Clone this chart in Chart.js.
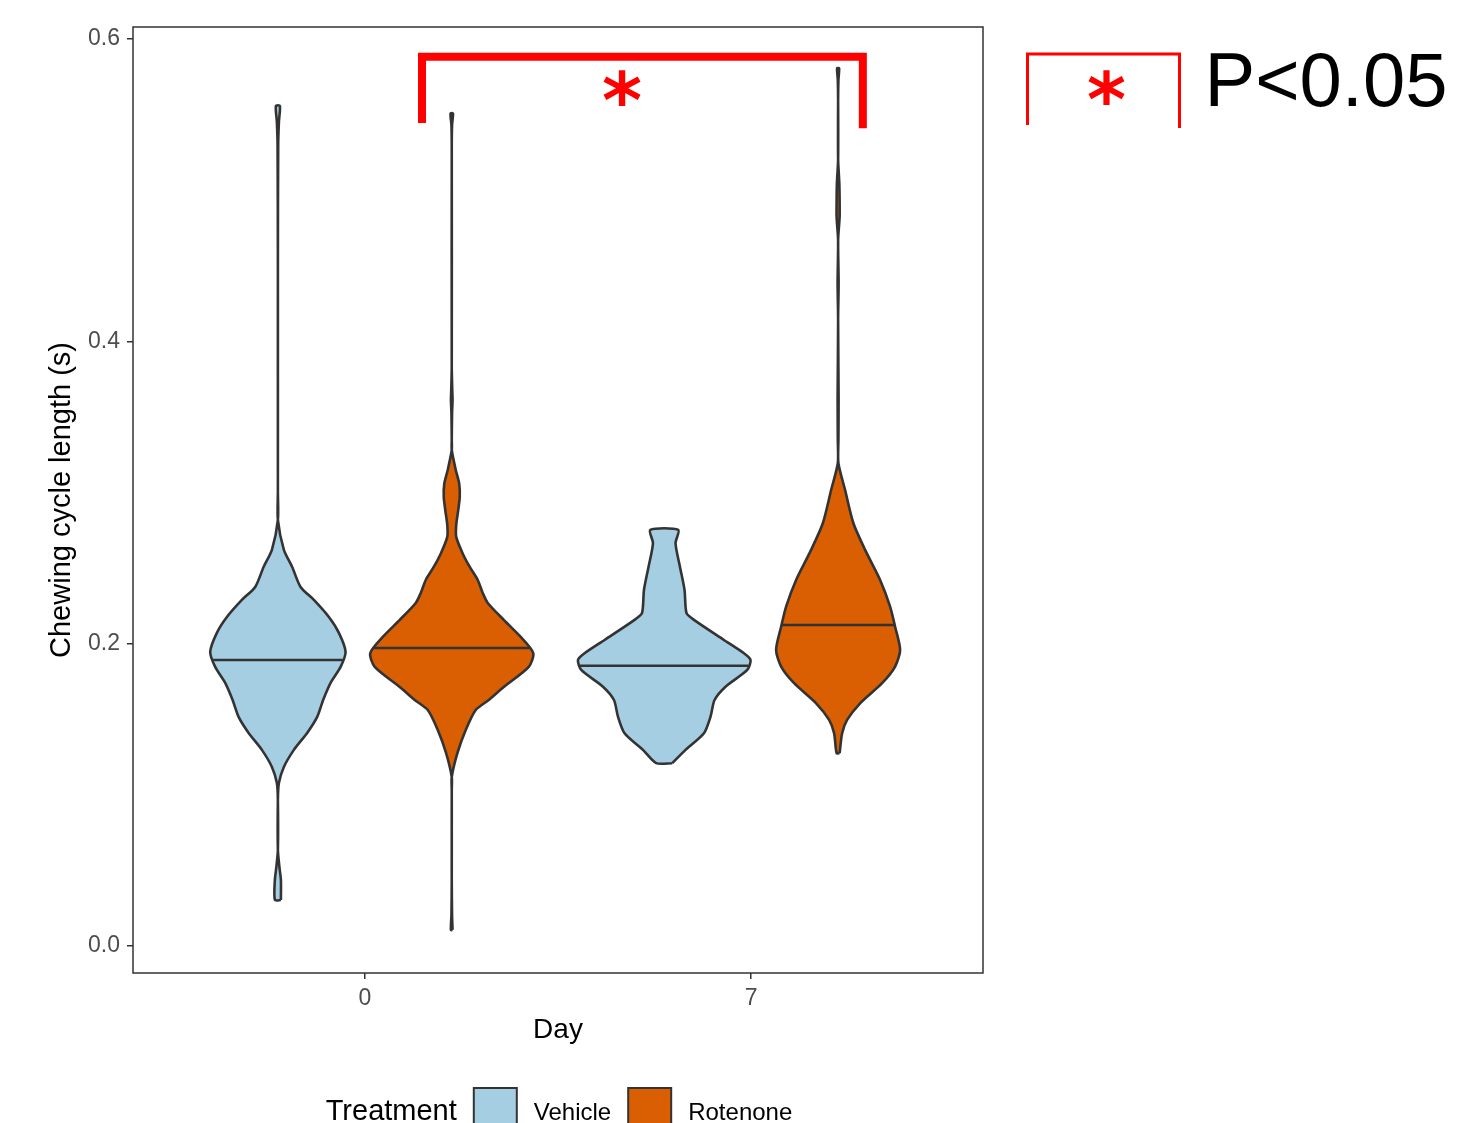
<!DOCTYPE html>
<html>
<head>
<meta charset="utf-8">
<script src="https://cdn.jsdelivr.net/npm/chart.js@4.4.0/dist/chart.umd.min.js"></script>
<style>
  html, body { margin: 0; padding: 0; background: #fff; }
  #wrap { width: 1460px; height: 1123px; }
</style>
</head>
<body>
<div id="wrap"><canvas id="chart" width="1460" height="1123"></canvas></div>
<script>
// categories
const days = ['0', '7'];
const treatments = ['Vehicle', 'Rotenone'];
const yTicks = [0, 0.2, 0.4, 0.6];

// violin outlines: y levels (s) and half widths (x units)
const vehicleDay0Y = [0.0304, 0.0437, 0.0523, 0.0635, 0.0966, 0.1078, 0.1184, 0.1297, 0.1409, 0.1515, 0.1627, 0.1740, 0.1846, 0.1945, 0.2071, 0.2176, 0.2289, 0.2375, 0.2507, 0.2620, 0.2818, 0.3000, 0.4500, 0.5300, 0.5450, 0.5557];
const vehicleDay0W = [0.0078, 0.0078, 0.0039, 0, 0, 0.0026, 0.0155, 0.0414, 0.0758, 0.1017, 0.1172, 0.1364, 0.1623, 0.1752, 0.1579, 0.1320, 0.0932, 0.0587, 0.0370, 0.0155, 0, 0, 0, 0.0008, 0.0026, 0.0052];

const rotenoneDay0Y = [0.0106, 0.0205, 0.0437, 0.1032, 0.1118, 0.1277, 0.1429, 0.1561, 0.1627, 0.1713, 0.1846, 0.1938, 0.2044, 0.2157, 0.2269, 0.2335, 0.2421, 0.2507, 0.2600, 0.2706, 0.2785, 0.2884, 0.2970, 0.3056, 0.3149, 0.3281, 0.3347, 0.3526, 0.3612, 0.3678, 0.3830, 0.5285, 0.5430, 0.5508];
const rotenoneDay0W = [0.0021, 0.0008, 0, 0, 0, 0.0148, 0.0362, 0.0621, 0.0958, 0.1346, 0.1993, 0.2109, 0.1786, 0.1346, 0.0932, 0.0802, 0.0673, 0.0466, 0.0277, 0.0116, 0.0116, 0.0168, 0.0207, 0.0194, 0.0104, 0, 0, 0.0008, 0.0021, 0.0013, 0, 0, 0.0008, 0.0031];

const vehicleDay7Y = [0.1209, 0.1297, 0.1407, 0.1517, 0.1627, 0.1715, 0.1826, 0.1892, 0.1936, 0.2024, 0.2157, 0.2201, 0.2355, 0.2509, 0.2664, 0.2752];
const vehicleDay7W = [0.0207, 0.0551, 0.1027, 0.1198, 0.1302, 0.1586, 0.2148, 0.2233, 0.2063, 0.1545, 0.0769, 0.0577, 0.0525, 0.0406, 0.0292, 0.0362];

const rotenoneDay7Y = [0.1275, 0.1407, 0.1495, 0.1605, 0.1738, 0.1848, 0.1958, 0.2112, 0.2245, 0.2421, 0.2620, 0.2796, 0.3016, 0.3193, 0.3347, 0.3612, 0.4141, 0.4386, 0.4670, 0.4822, 0.4935, 0.5047, 0.5200, 0.5596, 0.5729, 0.5806];
const rotenoneDay7W = [0.0039, 0.0104, 0.0233, 0.0569, 0.1139, 0.1475, 0.1605, 0.1475, 0.1346, 0.1087, 0.0699, 0.0396, 0.0181, 0.0008, 0.0008, 0.0013, 0, 0.0013, 0, 0.0039, 0.0039, 0.0031, 0, 0, 0.0008, 0.0026];

// medians per day
const vehicleMedian = [0.1892, 0.1854];
const rotenoneMedian = [0.1971, 0.2123];

const FONT = "'Liberation Sans', Arial, Helvetica, sans-serif";
const STAR_FONT = "bold 'DejaVu Sans', sans-serif";
Chart.defaults.font.family = FONT;

const fillColors = ['#A6CEE3', '#D95F02'];
const outlineColor = '#333333';
const dodge = 0.225;

const violins = [
  { t: 0, d: 0, ys: vehicleDay0Y, ws: vehicleDay0W, med: vehicleMedian[0] },
  { t: 1, d: 0, ys: rotenoneDay0Y, ws: rotenoneDay0W, med: rotenoneMedian[0] },
  { t: 0, d: 1, ys: vehicleDay7Y, ws: vehicleDay7W, med: vehicleMedian[1] },
  { t: 1, d: 1, ys: rotenoneDay7Y, ws: rotenoneDay7W, med: rotenoneMedian[1] },
];

const centerOf = (d, t) => d + 1 + (t === 0 ? -dodge : dodge);

function outline(c, ys, ws) {
  const pts = [];
  for (let i = 0; i < ys.length; i++) pts.push({ x: c + ws[i], y: ys[i] });
  for (let i = ys.length - 1; i >= 0; i--) pts.push({ x: c - ws[i], y: ys[i] });
  pts.push({ x: c + ws[0], y: ys[0] });
  return pts;
}

function widthAt(ys, ws, v) {
  for (let i = 0; i < ys.length - 1; i++) {
    if (v >= ys[i] && v <= ys[i + 1]) {
      const f = (v - ys[i]) / (ys[i + 1] - ys[i]);
      return ws[i] + f * (ws[i + 1] - ws[i]);
    }
  }
  return 0;
}

const datasets = [];
violins.forEach(v => {
  const c = centerOf(v.d, v.t);
  const hw = widthAt(v.ys, v.ws, v.med);
  datasets.push({
    label: treatments[v.t] + ' median',
    data: [{ x: c - hw, y: v.med }, { x: c + hw, y: v.med }],
    showLine: true,
    borderColor: outlineColor,
    borderWidth: 2.6,
    pointRadius: 0,
    order: 0,
  });
});
violins.forEach(v => {
  datasets.push({
    label: treatments[v.t],
    data: outline(centerOf(v.d, v.t), v.ys, v.ws),
    showLine: true,
    fill: 'shape',
    backgroundColor: fillColors[v.t],
    borderColor: outlineColor,
    borderWidth: 2.6,
    borderJoinStyle: 'round',
    tension: 0.25,
    pointRadius: 0,
    order: 1,
  });
});

function drawStar(ctx, x, y, height) {
  // asterisk scaled so its ink is `height` tall and centred on (x, y)
  const font = s => STAR_FONT.replace('bold ', 'bold ' + s + 'px ');
  ctx.font = font(100);
  let m = ctx.measureText('*');
  const size = 100 * height / (m.actualBoundingBoxAscent + m.actualBoundingBoxDescent);
  ctx.font = font(size);
  m = ctx.measureText('*');
  ctx.textAlign = 'center';
  ctx.textBaseline = 'alphabetic';
  ctx.fillText('*', x, y + (m.actualBoundingBoxAscent - m.actualBoundingBoxDescent) / 2);
}

const decor = {
  id: 'decor',
  afterDraw(chart) {
    const { ctx, chartArea: a, scales: { x, y } } = chart;
    ctx.save();
    // panel border
    ctx.strokeStyle = outlineColor;
    ctx.lineWidth = 1.5;
    ctx.strokeRect(a.left, a.top, a.right - a.left, a.bottom - a.top);

    // significance bracket between the rotenone groups
    ctx.strokeStyle = '#FF0000';
    ctx.fillStyle = '#FF0000';
    ctx.lineWidth = 8;
    ctx.lineJoin = 'miter';
    ctx.beginPath();
    ctx.moveTo(x.getPixelForValue(1.148), y.getPixelForValue(0.5444));
    ctx.lineTo(x.getPixelForValue(1.148), y.getPixelForValue(0.5883));
    ctx.lineTo(x.getPixelForValue(2.289), y.getPixelForValue(0.5883));
    ctx.lineTo(x.getPixelForValue(2.289), y.getPixelForValue(0.541));
    ctx.stroke();
    drawStar(ctx, x.getPixelForValue(1.6655), 88, 36);

    // key for the bracket
    const kx = a.right + 44.5;
    ctx.lineWidth = 3;
    ctx.beginPath();
    ctx.moveTo(kx, 125);
    ctx.lineTo(kx, 54);
    ctx.lineTo(kx + 152, 54);
    ctx.lineTo(kx + 152, 128);
    ctx.stroke();
    drawStar(ctx, kx + 79, 87.5, 35);
    ctx.fillStyle = '#000';
    ctx.font = '76px ' + FONT;
    ctx.textAlign = 'left';
    ctx.textBaseline = 'alphabetic';
    ctx.fillText('P<0.05', kx + 177, 106);

    // legend, centred under the panel
    const titleFont = '29px ' + FONT;
    const itemFont = '24px ' + FONT;
    const box = 43, gapBox = 17, gapText = 17;
    ctx.font = titleFont;
    let total = ctx.measureText('Treatment').width;
    ctx.font = itemFont;
    treatments.forEach(t => { total += gapBox + box + gapText + ctx.measureText(t).width; });
    let lx = (a.left + a.right) / 2 - total / 2 + 1;
    const base = 1120;
    ctx.fillStyle = '#000';
    ctx.font = titleFont;
    ctx.fillText('Treatment', lx, base);
    lx += ctx.measureText('Treatment').width;
    ctx.font = itemFont;
    treatments.forEach((t, i) => {
      lx += gapBox;
      ctx.fillStyle = fillColors[i];
      ctx.fillRect(lx, 1088, box, box);
      ctx.strokeStyle = outlineColor;
      ctx.lineWidth = 2;
      ctx.strokeRect(lx, 1088, box, box);
      lx += box + gapText;
      ctx.fillStyle = '#000';
      ctx.fillText(t, lx, base);
      lx += ctx.measureText(t).width;
    });
    ctx.restore();
  }
};

new Chart(document.getElementById('chart').getContext('2d'), {
  type: 'scatter',
  data: { datasets },
  options: {
    responsive: false,
    animation: false,
    layout: { padding: { top: 27, right: 477, bottom: 0, left: 0 } },
    plugins: { legend: { display: false }, tooltip: { enabled: false } },
    scales: {
      x: {
        type: 'linear',
        min: 0.4,
        max: 2.6,
        afterBuildTicks: s => { s.ticks = days.map((d, i) => ({ value: i + 1 })); },
        afterFit: s => { s.height = 150; },
        ticks: {
          callback: (v, i) => days[i],
          font: { size: 23 },
          color: '#4D4D4D',
          padding: 6,
          maxRotation: 0,
          autoSkip: false,
        },
        grid: { drawOnChartArea: false, drawTicks: true, tickLength: 6, color: outlineColor, lineWidth: 1.5 },
        border: { display: false },
        title: { display: true, text: 'Day', font: { size: 28 }, color: '#000', padding: { top: 0, bottom: 76 } },
      },
      y: {
        type: 'linear',
        min: -0.0179,
        max: 0.6079,
        afterBuildTicks: s => { s.ticks = yTicks.map(v => ({ value: v })); },
        afterFit: s => { s.width = 133; },
        ticks: {
          callback: v => v.toFixed(1),
          font: { size: 23 },
          color: '#4D4D4D',
          padding: 7,
          autoSkip: false,
        },
        grid: { drawOnChartArea: false, drawTicks: true, tickLength: 6, color: outlineColor, lineWidth: 1.5 },
        border: { display: false },
        title: { display: true, text: 'Chewing cycle length (s)', font: { size: 29 }, color: '#000', padding: { top: 45, bottom: 0 } },
      },
    },
  },
  plugins: [decor],
});
</script>
</body>
</html>
